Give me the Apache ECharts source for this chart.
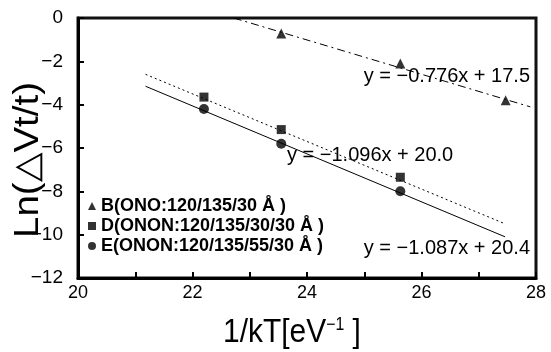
<!DOCTYPE html>
<html><head><meta charset="utf-8">
<script src="https://cdn.jsdelivr.net/npm/echarts@6/dist/echarts.min.js"></script>
<style>html,body{margin:0;padding:0;background:#fff}#c{width:551px;height:352px}</style>
</head><body><div id="c"></div>
<script>
// Data
const seriesNames = ['B(ONO:120/135/30 Å )', 'D(ONON:120/135/30/30 Å )', 'E(ONON:120/135/55/30 Å )'];
const pointsB = [[23.55, -0.72], [25.63, -2.1], [27.47, -3.8]];
const pointsD = [[22.2, -3.65], [23.55, -5.15], [25.63, -7.35]];
const pointsE = [[22.2, -4.2], [23.55, -5.8], [25.63, -8.0]];
const fitB = [[22.72, 0], [27.9, -4.1]];
const fitD = [[21.18, -2.6], [27.46, -9.5]];
const fitE = [[21.18, -3.15], [27.46, -10.1]];
const fitLabels = ['y = −0.776x + 17.5', 'y = −1.096x + 20.0', 'y = −1.087x + 20.4'];
const xTicks = [20, 22, 24, 26, 28];
const yTicks = [0, -2, -4, -6, -8, -10, -12];
const xTitle = '1/kT[eV{sup|−1} ]';
const yTitle = 'Ln(△Vt/t)';

const chart = echarts.init(document.getElementById('c'));
const FONT = '"Liberation Sans", Arial, sans-serif';
const xMin = xTicks[0], xMax = xTicks[xTicks.length - 1];
const yMin = yTicks[yTicks.length - 1], yMax = yTicks[0];
const lineS = (data, type, w) => ({type: 'line', data, symbol: 'none', silent: true,
  lineStyle: {color: '#000', width: w, type}, z: 2});
const scat = (name, data, sym, size) => ({type: 'scatter', name, data, symbol: sym, symbolSize: size,
  itemStyle: {color: '#000'}, z: 3});
chart.setOption({
  animation: false,
  grid: {left: 78, right: 15, top: 18, bottom: 74, show: true, borderColor: '#111', borderWidth: 3,
    backgroundColor: 'rgba(0,0,0,0)', outerBoundsMode: 'none', containLabel: false},
  xAxis: {type: 'value', min: xMin, max: xMax, interval: 2,
    axisLine: {show: true, onZero: false, lineStyle: {color: '#000', width: 3}}, splitLine: {show: false},
    axisTick: {show: true, inside: true, length: 6, lineStyle: {color: '#000', width: 2}},
    minorTick: {show: true, splitNumber: 2, length: 6, lineStyle: {color: '#000', width: 2}},
    axisLabel: {color: '#000', fontSize: 18, fontFamily: FONT, margin: 6}},
  yAxis: {type: 'value', min: yMin, max: yMax, interval: 2,
    axisLine: {show: true, onZero: false, lineStyle: {color: '#000', width: 3}}, splitLine: {show: false},
    axisTick: {show: true, inside: true, length: 6, lineStyle: {color: '#000', width: 2}},
    axisLabel: {color: '#000', fontSize: 19, fontFamily: FONT, margin: 15,
      formatter: v => (v < 0 ? '−' + (-v) : '' + v)}},
  legend: {orient: 'vertical', left: 83, top: 192, itemGap: 2, itemWidth: 8, itemHeight: 8,
    data: seriesNames.map((n, i) => ({name: n, icon: ['triangle', 'rect', 'circle'][i]})),
    textStyle: {color: '#000', fontSize: 18, fontWeight: 'bold', fontFamily: FONT}},
  series: [
    lineS(fitB, [8, 4, 2, 4], 1), lineS(fitD, [2, 3], 1), lineS(fitE, 'solid', 1),
    scat(seriesNames[0], pointsB, 'triangle', 10),
    scat(seriesNames[1], pointsD, 'rect', 9),
    scat(seriesNames[2], pointsE, 'circle', 10)
  ],
  graphic: [
    {type: 'text', x: 530, y: 76, style: {text: fitLabels[0], font: '20px ' + FONT, fill: '#000', align: 'right', verticalAlign: 'middle'}},
    {type: 'text', x: 287, y: 155, style: {text: fitLabels[1], font: '20px ' + FONT, fill: '#000', align: 'left', verticalAlign: 'middle'}},
    {type: 'text', x: 530, y: 248, style: {text: fitLabels[2], font: '20px ' + FONT, fill: '#000', align: 'right', verticalAlign: 'middle'}},
    {type: 'text', x: 292, y: 333, scaleX: 0.88, style: {text: xTitle, font: '34px ' + FONT, fill: '#000', align: 'center', verticalAlign: 'middle',
      rich: {sup: {fontSize: 18, fontFamily: FONT, verticalAlign: 'top', padding: [0, 0, 16, 0]}}}},
    {type: 'text', x: 28, y: 160, rotation: Math.PI / 2, scaleX: 1.1, style: {text: yTitle, font: '35px ' + FONT, fill: '#000', align: 'center', verticalAlign: 'middle'}}
  ]
});
</script></body></html>
